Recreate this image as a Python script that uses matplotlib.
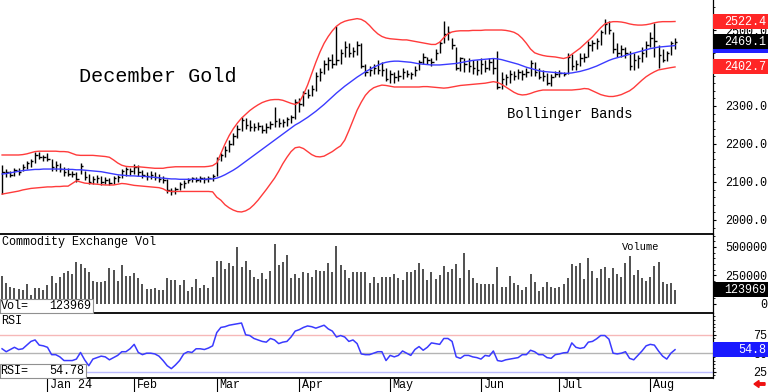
import matplotlib
matplotlib.use('Agg')
import matplotlib.pyplot as plt
from matplotlib.patches import Rectangle, FancyArrow
from matplotlib.transforms import IdentityTransform, blended_transform_factory
import numpy as np

plt.rcParams['font.family'] = ['Liberation Mono', 'DejaVu Sans Mono']

# daily bars, Dec 14 2023 .. Aug 9 2024 (trading days)
highs = [2145, 2135, 2130, 2138, 2138, 2148, 2155, 2160, 2178, 2180, 2172,
         2175, 2160, 2155, 2150, 2140, 2138, 2130, 2125, 2150, 2130, 2122, 2115, 2118, 2115, 2112, 2110, 2115, 2118, 2135, 2140, 2138,
         2148, 2145, 2132, 2125, 2130, 2125, 2120, 2115, 2108, 2085, 2088, 2100, 2105, 2110, 2114, 2112, 2115, 2112, 2115, 2120,
         2165, 2175, 2195, 2210, 2230, 2250, 2272, 2268, 2262, 2255, 2258, 2250, 2255, 2260, 2298, 2268, 2265, 2270, 2275, 2318,
         2320, 2340, 2345, 2355, 2390, 2400, 2420, 2430, 2438, 2510, 2450, 2470, 2465, 2455, 2470, 2465, 2410, 2405, 2410, 2420, 2415, 2400,
         2395, 2390, 2395, 2400, 2395, 2390, 2405, 2420, 2440, 2430, 2425, 2450, 2470, 2525, 2510, 2480, 2455, 2430, 2425, 2425, 2422, 2420,
         2425, 2420, 2425, 2425, 2445, 2390, 2385, 2395, 2392, 2398, 2395, 2400, 2420, 2415, 2400, 2395, 2388, 2385, 2392,
         2395, 2390, 2440, 2438, 2420, 2440, 2440, 2470, 2475, 2480, 2500, 2530, 2525, 2495, 2465, 2460, 2455, 2445, 2440, 2435,
         2455, 2470, 2495, 2518, 2460, 2450, 2445, 2470, 2478]
lows = [2068, 2112, 2112, 2115, 2118, 2128, 2135, 2140, 2150, 2160, 2155,
        2155, 2130, 2130, 2125, 2115, 2115, 2112, 2100, 2120, 2105, 2095, 2095, 2098, 2092, 2095, 2092, 2095, 2100, 2110, 2115, 2118,
        2120, 2115, 2110, 2105, 2108, 2105, 2100, 2098, 2072, 2066, 2068, 2078, 2085, 2098, 2100, 2100, 2100, 2098, 2100, 2102,
        2115, 2155, 2165, 2180, 2198, 2215, 2235, 2240, 2235, 2235, 2238, 2230, 2228, 2240, 2245, 2245, 2245, 2248, 2255, 2265,
        2285, 2300, 2320, 2325, 2340, 2365, 2385, 2395, 2400, 2408, 2410, 2430, 2428, 2430, 2435, 2400, 2380, 2380, 2385, 2385, 2380, 2365,
        2360, 2360, 2365, 2370, 2375, 2372, 2380, 2395, 2410, 2410, 2405, 2420, 2440, 2465, 2475, 2450, 2395, 2392, 2390, 2390, 2385, 2382,
        2385, 2390, 2395, 2385, 2345, 2345, 2355, 2360, 2368, 2370, 2368, 2375, 2380, 2380, 2370, 2365, 2355, 2352, 2375,
        2375, 2378, 2385, 2395, 2395, 2405, 2415, 2430, 2445, 2450, 2460, 2490, 2490, 2440, 2430, 2430, 2425, 2395, 2395, 2400,
        2415, 2430, 2455, 2430, 2400, 2415, 2418, 2435, 2450]
closes = [2125, 2125, 2118, 2132, 2125, 2140, 2150, 2155, 2172, 2165, 2165,
          2160, 2140, 2145, 2135, 2125, 2120, 2122, 2108, 2142, 2112, 2100, 2108, 2110, 2100, 2105, 2098, 2110, 2112, 2130, 2135, 2130,
          2140, 2125, 2118, 2115, 2118, 2112, 2108, 2105, 2080, 2075, 2082, 2095, 2098, 2105, 2110, 2105, 2110, 2108, 2110, 2115,
          2160, 2170, 2185, 2200, 2222, 2240, 2262, 2250, 2245, 2245, 2248, 2238, 2245, 2252, 2260, 2255, 2258, 2265, 2270, 2310,
          2305, 2335, 2330, 2345, 2380, 2390, 2410, 2420, 2410, 2420, 2440, 2455, 2440, 2445, 2460, 2405, 2390, 2395, 2400, 2395, 2395, 2370,
          2385, 2375, 2380, 2390, 2385, 2385, 2395, 2415, 2430, 2420, 2415, 2440, 2465, 2490, 2495, 2460, 2400, 2425, 2410, 2405, 2400, 2395,
          2410, 2400, 2415, 2400, 2350, 2370, 2375, 2385, 2378, 2390, 2385, 2390, 2412, 2390, 2375, 2380, 2360, 2375, 2385,
          2388, 2385, 2430, 2405, 2410, 2425, 2430, 2460, 2465, 2470, 2495, 2515, 2500, 2450, 2440, 2450, 2440, 2405, 2420, 2425,
          2440, 2460, 2480, 2470, 2435, 2420, 2440, 2465, 2469.1]

# bollinger bands as drawn on the chart
upper = [2171, 2171, 2171, 2171, 2171, 2172, 2174, 2177,
         2180, 2181, 2181, 2181, 2181, 2181, 2180, 2180, 2179,
         2175, 2171, 2170, 2170, 2170, 2170, 2169, 2168, 2167, 2165,
         2158, 2150, 2144, 2141, 2140, 2140, 2140, 2139, 2138, 2137, 2136, 2136, 2136,
         2138, 2139, 2140, 2140, 2140, 2140, 2140, 2140, 2140, 2140, 2141, 2143,
         2150, 2175, 2200, 2222, 2240, 2255, 2268, 2278, 2288, 2296, 2303, 2309, 2313, 2316, 2317, 2317, 2315, 2311, 2307, 2304,
         2310, 2330, 2355, 2385, 2415, 2442, 2465, 2483, 2498, 2510, 2518, 2523, 2526, 2528, 2530, 2528, 2522, 2512, 2500, 2490, 2483, 2479,
         2477, 2476, 2475, 2474, 2474, 2472, 2470, 2468, 2466, 2464, 2462, 2462, 2468, 2480, 2490, 2495, 2497, 2498, 2498, 2498, 2499, 2499,
         2499, 2500, 2500, 2500, 2500, 2500, 2499, 2497, 2494, 2488, 2478, 2465, 2450, 2440, 2436, 2433, 2431, 2430, 2429,
         2427, 2425, 2428, 2436, 2444, 2452, 2462, 2472, 2482, 2494, 2506, 2516, 2520, 2522, 2522, 2521, 2519, 2516, 2514, 2513,
         2513, 2514, 2516, 2519, 2521, 2522, 2522, 2522, 2522.4]
middle = [2121, 2122, 2124, 2126, 2128, 2130, 2131, 2132, 2133, 2133, 2134,
          2134, 2134, 2134, 2134, 2133, 2133, 2133, 2132, 2132, 2131, 2130, 2129, 2128, 2127,
          2125, 2123, 2121, 2119, 2118, 2117, 2116, 2116, 2115, 2115, 2114, 2113, 2112, 2111, 2110,
          2109, 2108, 2108, 2107, 2107, 2107, 2107, 2107, 2107, 2107, 2108, 2108,
          2110, 2114, 2119, 2125, 2131, 2138, 2146, 2154, 2162, 2170, 2178, 2186, 2194, 2202, 2210, 2218, 2226, 2234, 2242, 2250,
          2256, 2263, 2270, 2278, 2286, 2295, 2304, 2314, 2324, 2334, 2343, 2352, 2360, 2368, 2376, 2383, 2390, 2396, 2402, 2407, 2412, 2415,
          2417, 2418, 2418, 2417, 2416, 2415, 2413, 2411, 2410, 2409, 2408, 2408, 2408, 2409, 2410, 2411, 2412, 2414, 2416, 2418, 2420, 2421,
          2422, 2423, 2424, 2425, 2424, 2422, 2419, 2416, 2413, 2410, 2406, 2402, 2399, 2396, 2393, 2391, 2390, 2389, 2388,
          2387, 2386, 2386, 2387, 2389, 2391, 2394, 2397, 2401, 2405, 2410, 2415, 2420, 2424, 2427, 2430, 2433, 2436, 2439, 2442,
          2445, 2448, 2451, 2453, 2455, 2456, 2457, 2458, 2459]
lower = [2068, 2070, 2072, 2074, 2076, 2079, 2081, 2083,
         2084, 2085, 2086, 2087, 2087, 2088, 2088, 2089, 2089,
         2096, 2103, 2100, 2097, 2096, 2095, 2094, 2093, 2092, 2092,
         2092, 2094, 2096, 2095, 2093, 2091, 2090, 2089, 2088, 2087, 2086, 2085, 2082,
         2076, 2075, 2075, 2075, 2075, 2075, 2075, 2075, 2075, 2075, 2075, 2074,
         2060, 2052, 2040, 2032, 2026, 2022, 2021, 2024, 2030, 2040, 2052, 2066, 2080, 2095, 2110, 2128, 2148, 2165, 2180, 2190,
         2192, 2188, 2180, 2172, 2167, 2166, 2168, 2174, 2180, 2188, 2195, 2210, 2235, 2262, 2289, 2310, 2328, 2340, 2348, 2352, 2355, 2354,
         2352, 2350, 2350, 2350, 2350, 2350, 2350, 2350, 2351, 2351, 2350, 2349, 2348, 2347, 2348, 2350, 2352, 2354, 2355, 2356, 2357, 2358,
         2359, 2360, 2362, 2364, 2362, 2357, 2350, 2343, 2336, 2331, 2329, 2330, 2333, 2337, 2340, 2342, 2342, 2342, 2342,
         2342, 2342, 2342, 2342, 2343, 2344, 2346, 2345, 2340, 2335, 2330, 2327, 2325, 2325, 2327, 2330, 2335, 2340, 2348, 2358,
         2368, 2377, 2384, 2390, 2395, 2397, 2399, 2401, 2402.7]

# volume in thousands of contracts
vol_k = [246, 181, 146, 143, 129, 123, 175, 79, 137, 137, 123, 167, 249, 181, 234, 269, 287, 260, 371, 348,
         313, 278, 202, 196, 196, 205, 319, 295, 205, 342, 246, 249, 272, 231, 175, 132, 132, 140, 123, 120,
         225, 210, 210, 167, 210, 117, 152, 219, 137, 167, 143, 240, 380, 380, 304, 357, 333, 503, 327, 380,
         298, 234, 216, 269, 219, 292, 523, 342, 371, 430, 225, 260, 231, 284, 269, 240, 298, 292, 292, 363,
         278, 512, 342, 298, 225, 278, 278, 278, 278, 187, 234, 187, 240, 240, 240, 260, 230,
         210, 278, 284, 298, 357, 304, 210, 278, 219, 254, 336, 278, 307, 348, 231, 450, 298, 225, 187, 175,
         175, 175, 175, 322, 146, 146, 246, 187, 167, 123, 152, 260, 196, 114, 146, 196, 146, 137, 152, 175,
         231, 348, 333, 357, 216, 400, 292, 231, 307, 327, 231, 319, 263, 240, 363, 421, 254, 298, 225, 202,
         240, 333, 371, 196, 175, 187, 123.969]

rsi = [56, 52, 55, 58, 55, 56, 61, 66, 68, 61, 60, 58,
       48, 48, 45, 40, 40, 40, 42, 51, 41, 33, 42, 44, 46, 45, 41, 44, 47, 52, 52, 56,
       62, 51, 48, 50, 50, 49, 46, 40, 33, 29, 34, 40, 49, 52, 51, 56, 56, 55, 57, 60,
       78, 85, 86, 88, 89, 90, 91, 75, 74, 70, 68, 66, 65, 70, 68, 63, 65, 66, 72, 80,
       82, 85, 87, 86, 84, 86, 88, 83, 80, 72, 74, 72, 66, 68, 63, 49, 48, 48, 50, 52, 52, 40,
       47, 45, 47, 53, 50, 47, 55, 59, 54, 58, 64, 63, 62, 70, 70, 66, 45, 43, 47, 47, 45, 44,
       42, 47, 46, 53, 40, 39, 41, 42, 43, 44, 48, 48, 54, 52, 48, 48, 44, 43, 48,
       49, 50.5, 51, 64, 58, 56.5, 57.7, 65, 66, 69.5, 74, 74, 69, 50, 49, 50, 52, 43, 41, 47,
       53, 60, 62, 61, 53, 46, 42, 50, 54.78]

month_pos = [11, 32, 52, 72, 94, 116, 135, 157]
month_labels = ['Jan 24', 'Feb', 'Mar', 'Apr', 'May', 'Jun', 'Jul', 'Aug']
price_ticks = [2000, 2100, 2200, 2300, 2400, 2500]
vol_ticks = [0, 250000, 500000]
rsi_ticks = [25, 50, 75]

W, H = 768, 392
fig = plt.figure(figsize=(W / 100, H / 100), dpi=100)


def ax_at(l, t, r, b):
    return fig.add_axes([l / W, 1 - b / H, (r - l) / W, (b - t) / H])


ax_p = ax_at(0, 0, 713, 234)
ax_v = ax_at(0, 234, 713, 313)
ax_r = ax_at(0, 313, 713, 378)

idx = np.arange(len(closes))
vol = np.array(vol_k) * 1000

for ax in (ax_p, ax_v, ax_r):
    ax.set_xlim(-0.5, 172.2)
    ax.spines['top'].set_visible(False)
    ax.spines['left'].set_visible(False)
    ax.spines['right'].set_linewidth(0.9)
    ax.spines['bottom'].set_linewidth(1.3)
    ax.yaxis.tick_right()
    ax.tick_params(axis='y', which='major', length=2, pad=37, labelsize=8.5, width=0.8)
    ax.tick_params(axis='y', which='minor', length=1.5, width=0.6)
    ax.patch.set_alpha(0)

# price panel
ax_p.set_ylim(1963, 2579)
ax_p.vlines(idx, lows, highs, color='black', lw=1.0)
ax_p.hlines(closes, idx, idx + 0.6, color='black', lw=1.0)
ax_p.plot(idx, upper, color='#ff3b3b', lw=1.0)
ax_p.plot(idx, lower, color='#ff3b3b', lw=1.0)
ax_p.plot(idx, middle, color='#3b3bff', lw=1.0)
ax_p.set_xticks([])
ax_p.set_yticks(price_ticks)
ax_p.set_yticklabels(['%.1f' % t for t in price_ticks])
ax_p.set_yticks(np.arange(1980, 2580, 20), minor=True)

# volume panel
ax_v.set_ylim(-79000, 614000)
ax_v.vlines(idx, 0, vol, color='#202020', lw=1.1)
ax_v.set_xticks([])
ax_v.set_yticks(vol_ticks)
ax_v.set_yticklabels([str(t) for t in vol_ticks])
ax_v.set_yticks(np.arange(0, 600001, 50000), minor=True)

# rsi panel
ax_r.set_ylim(16.3, 104.6)
ax_r.axhline(75, color='#f6b8b8', lw=1.0)
ax_r.axhline(50, color='#b4b4b4', lw=1.0)
ax_r.axhline(25, color='#bcbcff', lw=1.0)
ax_r.plot(idx, rsi, color='#3a3aff', lw=1.1)
ax_r.set_yticks(rsi_ticks)
ax_r.set_yticklabels([str(t) for t in rsi_ticks])
ax_r.set_yticks(np.arange(20, 101, 5), minor=True)
ax_r.set_xticks(month_pos)
ax_r.tick_params(axis='x', direction='out', length=10.5, width=0.8, labelbottom=False)
tr = blended_transform_factory(ax_r.transData, ax_r.transAxes)
for p, lab in zip(month_pos, month_labels):
    ax_r.text(p + 0.6, -0.11, lab, transform=tr, ha='left', va='center', fontsize=8.5)

for ax in (ax_p, ax_v, ax_r):
    plt.setp(ax.get_yticklabels(), ha='right')

# titles
fig.text(79 / W, 1 - 76 / H, 'December Gold', fontsize=14.5, va='center')
fig.text(507 / W, 1 - 114 / H, 'Bollinger Bands', fontsize=10, va='center')
fig.text(2 / W, 1 - 242.5 / H, 'Commodity Exchange Vol', fontsize=8.5, va='center')
fig.text(622 / W, 1 - 246.5 / H, 'Volume', fontsize=7.5, va='center')
fig.text(1 / W, 1 - 321.5 / H, 'RSI', fontsize=8.5, va='center')


def left_box(top, bottom, width, name, value):
    fig.add_artist(Rectangle((0, 1 - bottom / H), width / W, (bottom - top) / H,
                             transform=fig.transFigure, fc='white', ec='#909090', lw=0.8, zorder=5))
    yc = 1 - (top + bottom) / 2 / H
    fig.text(0.5 / W, yc, name, fontsize=8.5, va='center', zorder=6)
    fig.text((width - 2) / W, yc, value, fontsize=8.5, va='center', ha='right', zorder=6)


left_box(299, 313, 93, 'Vol=', '%d' % round(vol[-1]))
left_box(364, 378, 86, 'RSI=', '%.2f' % rsi[-1])


def right_box(ax, val, text, fc, dy=0):
    y = ax.transData.transform((0, val))[1] + dy
    fig.add_artist(Rectangle((713 / W, (y - 7.5) / H), 55 / W, 15 / H,
                             transform=fig.transFigure, fc=fc, ec='none', zorder=5))
    if text:
        fig.text(766 / W, y / H, text, color='white', ha='right', va='center',
                 fontsize=8.5, zorder=6)


right_box(ax_p, upper[-1], '%.1f' % upper[-1], '#ff2626')
right_box(ax_p, middle[-1], '', '#2020ff')
right_box(ax_p, closes[-1], '%.1f' % closes[-1], '#000000')
right_box(ax_p, lower[-1], '%.1f' % lower[-1], '#ff2626')
right_box(ax_v, vol[-1], '%d' % round(vol[-1]), '#000000')
right_box(ax_r, rsi[-1], '%.1f' % rsi[-1], '#1a1aff')

fig.add_artist(FancyArrow(765, 8, -6, 0, width=2.5, head_width=7, head_length=5,
                          length_includes_head=False, transform=IdentityTransform(),
                          color='#ee1111', zorder=6))

fig.savefig('out.png', dpi=100)
